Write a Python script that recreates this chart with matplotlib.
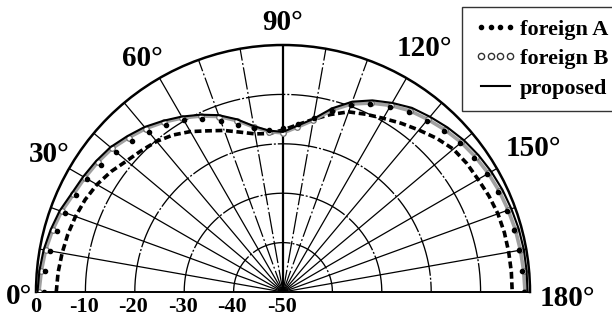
import numpy as np
import matplotlib
matplotlib.use("Agg")
import matplotlib.pyplot as plt
from matplotlib.lines import Line2D

# ---------------- data ----------------
angles_deg = list(range(0, 181, 5))

proposed = [-0.3, -0.5, -0.8, -1.3, -1.9, -2.8, -3.3, -3.8, -4.4, -5.4,
            -6.4, -7.7, -9.0, -10.4, -11.9, -13.8, -15.9, -17.2, -17.6, -16.2,
            -14.4, -11.5, -9.0, -7.2, -5.8, -4.5, -3.7, -2.9, -2.2, -1.7,
            -1.3, -1.0, -0.8, -0.6, -0.5, -0.5, -0.5]

foreign_a = [-1.6, -1.7, -2.1, -2.6, -3.1, -3.7, -4.3, -5.1, -5.9, -6.8,
             -7.7, -8.7, -9.9, -11.4, -13.2, -14.9, -16.3, -17.0, -16.8, -15.8,
             -14.2, -12.0, -9.8, -8.1, -6.7, -5.6, -4.7, -3.9, -3.2, -2.7,
             -2.3, -2.0, -1.8, -1.6, -1.5, -1.4, -1.3]

foreign_b = [-0.6, -0.9, -1.2, -1.7, -2.3, -3.2, -3.7, -4.2, -4.8, -5.8,
             -6.8, -8.0, -9.3, -10.7, -12.2, -14.1, -16.1, -17.4, -17.8, -16.5,
             -14.7, -11.9, -9.5, -7.8, -6.4, -5.2, -4.4, -3.6, -2.9, -2.4,
             -2.0, -1.7, -1.5, -1.3, -1.2, -1.1, -1.0]

# heavy dashed curve (not in legend)
unlabeled = [-4.1, -4.3, -4.6, -4.9, -5.3, -5.8, -6.5, -7.5, -8.7, -9.5,
             -10.2, -11.2, -12.5, -14.0, -15.2, -16.5, -17.5, -17.8, -17.2, -16.0,
             -14.5, -12.8, -11.2, -10.3, -9.4, -8.3, -7.2, -6.0, -5.0, -4.6,
             -4.4, -4.0, -3.7, -3.6, -3.6, -3.6, -3.6]

legend_labels = ["foreign A", "foreign B", "proposed"]

ring_values = [-10, -20, -30, -40]
radial_tick_values = [0, -10, -20, -30, -40, -50]
radial_tick_labels = ["0", "-10", "-20", "-30", "-40", "-50"]
ray_angles = [10, 20, 30, 40, 50, 60, 70, 80, 100, 110, 120, 130, 140, 150, 160, 170]
dashed_rays = [70, 80, 100, 110]
angle_label_values = [0, 30, 60, 90, 120, 150, 180]

SERIF = ["Liberation Serif", "DejaVu Serif"]

W, H = 612, 320
fig = plt.figure(figsize=(W / 100, H / 100), dpi=100)
fig.patch.set_facecolor("white")

# polar wedge is centred inside a square box; baseline sits R/2 above box bottom
cx, cy, R = 283, 292, 247
ax = fig.add_axes([(cx - R) / W, (H - cy - R / 2) / H, 2 * R / W, 2 * R / H],
                  projection="polar")
ax.set_theta_zero_location("W")
ax.set_theta_direction(-1)
ax.set_thetamin(0)
ax.set_thetamax(180)
ax.set_rlim(-50, 0)
ax.grid(False)
ax.set_xticks([])
ax.set_yticks([])
ax.set_facecolor("white")
ax.spines["polar"].set_linewidth(1.8)
ax.spines["start"].set_linewidth(1.4)
ax.spines["end"].set_linewidth(1.4)
if "inner" in ax.spines:
    ax.spines["inner"].set_visible(False)

# grid rings
tfull = np.linspace(0, np.pi, 400)
for rv in ring_values:
    ax.plot(tfull, np.full_like(tfull, rv), color="k", lw=0.95,
            ls=(0, (30, 1.5, 1.5, 1.5)), zorder=1)
# rays
for a in ray_angles:
    t = np.deg2rad(a)
    ls = (0, (18, 2, 1.5, 2)) if a in dashed_rays else "-"
    ax.plot([t, t], [-50, 0], color="k", lw=0.9, ls=ls, zorder=1)
ax.plot([np.pi / 2, np.pi / 2], [-50, 0], color="k", lw=1.6, zorder=1)

th = np.deg2rad(angles_deg)

ax.plot(th, unlabeled, color="k", lw=2.6, dashes=(1.9, 1.0), zorder=3)
ax.plot(th, foreign_b, color="#a0a0a0", lw=2.6, zorder=4)
ax.plot(th, foreign_b, ls="none", marker="o", ms=4, mfc="white", mec="#707070",
        mew=0.9, zorder=4, label=legend_labels[1])
ax.plot(th, foreign_a, ls="none", marker="o", ms=3.0, mfc="k", mec="k",
        zorder=5, label=legend_labels[0])
ax.plot(th, proposed, color="k", lw=1.5, zorder=6, label=legend_labels[2])

# radial tick labels along the left baseline
for rv, lbl in zip(radial_tick_values, radial_tick_labels):
    ax.annotate(lbl, xy=(0, rv), xytext=(-1 if lbl != "0" else 0, -11),
                textcoords="offset points", ha="center", va="center",
                fontsize=16, fontweight="bold", family=SERIF,
                annotation_clip=False)

# angle labels
angle_pos = {0: (19, 296), 30: (49, 155), 60: (142, 59), 90: (283, 22),
             120: (424, 48), 150: (533, 148), 180: (567, 298)}
for a in angle_label_values:
    px, py = angle_pos[a]
    fig.text(px / W, 1 - py / H, f"{a}°", ha="center", va="center",
             fontsize=21, fontweight="bold", family=SERIF)

handles = [
    Line2D([], [], ls="none", marker="o", ms=3.0, mfc="k", mec="k"),
    Line2D([], [], ls="none", marker="o", ms=4.5, mfc="white", mec="#333333", mew=1.0),
    Line2D([], [], color="k", lw=1.5),
]
leg = fig.legend(handles, legend_labels, loc="upper left",
                 bbox_to_anchor=(462 / W, 1 - 7 / H), numpoints=4,
                 handlelength=1.9, handletextpad=0.15, labelspacing=0.4,
                 borderpad=0.55, borderaxespad=0, frameon=True, fancybox=False,
                 prop={"family": SERIF, "weight": "bold", "size": 16})
leg.get_frame().set_edgecolor("k")
leg.get_frame().set_linewidth(1.0)

fig.savefig("out.png", dpi=100, facecolor="white")
